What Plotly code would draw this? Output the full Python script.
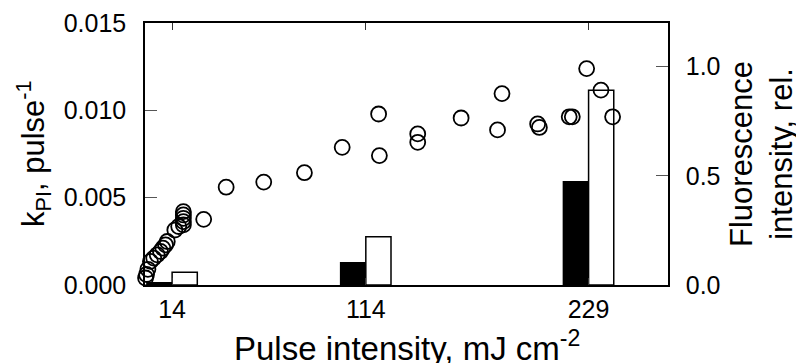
import plotly.graph_objects as go

# k_PI data (left axis)
kpi_x = [0.3, 0.8, 1.5, 2.8, 4.5, 6.3, 8.0, 9.2, 10.6, 11.5, 15.4, 17.4,
         19.8, 19.8, 19.8, 19.8, 19.8, 30.3, 41.9, 61.3, 82.3, 101.8,
         120.6, 121.0, 140.8, 140.8, 163.2, 182.0, 184.3, 202.7, 203.6,
         219.0, 220.6, 228.0, 235.4, 241.4]
kpi_y = [0.0004, 0.0006, 0.0009, 0.00135, 0.00154, 0.00173, 0.00192, 0.00211,
         0.0023, 0.00249, 0.00315, 0.00335,
         0.00344, 0.00363, 0.00382, 0.00401, 0.0042, 0.00376, 0.0056, 0.00589,
         0.00643, 0.00788,
         0.00979, 0.00741, 0.00865, 0.00817, 0.00956, 0.00888, 0.01096, 0.00922,
         0.00902, 0.00963, 0.00963, 0.01239, 0.01116, 0.00963]

# Fluorescence bars (right axis)
bar_x = [14, 114, 229]
fluo_black = [0.01, 0.102, 0.473]
fluo_white = [0.058, 0.221, 0.892]

x_ticks = [14, 114, 229]
left_ticks = [0.0, 0.005, 0.010, 0.015]
right_ticks = [0.0, 0.5, 1.0]

FONT = "Arial"
fig = go.Figure()

fig.add_trace(go.Bar(x=bar_x, y=fluo_black, marker=dict(color="black", line=dict(color="black", width=1.5)),
                     yaxis="y", showlegend=False))
fig.add_trace(go.Bar(x=bar_x, y=fluo_white, marker=dict(color="white", line=dict(color="black", width=1.5)),
                     yaxis="y", showlegend=False))
fig.add_trace(go.Scatter(x=kpi_x, y=kpi_y, mode="markers", yaxis="y2", cliponaxis=False,
                         marker=dict(symbol="circle-open", size=15, color="black", line=dict(width=1.8)),
                         showlegend=False))

tickfont = dict(family=FONT, size=25, color="black")

fig.update_layout(
    template="none",
    width=796, height=355,
    margin=dict(l=137, r=136, t=15, b=78),
    paper_bgcolor="white", plot_bgcolor="white",
    barmode="group", bargap=0.74, bargroupgap=0,
    xaxis=dict(range=[0, 270], tickvals=x_ticks, ticktext=[str(v) for v in x_ticks],
               ticks="inside", ticklen=7, tickcolor="#333", tickwidth=1.2, automargin=False,
               showline=True, linecolor="black", linewidth=1.5, mirror="ticks",
               showgrid=False, zeroline=False, tickfont=tickfont, ticklabelstandoff=1),
    yaxis=dict(side="right", range=[0, 1.2], tickvals=right_ticks, tickformat=".1f",
               ticks="inside", ticklen=12, tickcolor="#555", tickwidth=1.2, automargin=False,
               showline=True, linecolor="black", linewidth=1.5,
               showgrid=False, zeroline=False, tickfont=tickfont, ticklabelstandoff=11),
    yaxis2=dict(side="left", overlaying="y", range=[0, 0.015], tickvals=left_ticks, tickformat=".3f",
                ticks="inside", ticklen=12, tickcolor="#555", tickwidth=1.2, automargin=False,
                showline=True, linecolor="black", linewidth=1.5,
                showgrid=False, zeroline=False, tickfont=tickfont, ticklabelstandoff=12),
    annotations=[
        dict(text="k<sub>PI</sub>, pulse<sup>-1</sup>", textangle=-90, xref="paper", yref="paper",
             x=0, y=0.5, xanchor="center", yanchor="middle", xshift=-112, showarrow=False,
             font=dict(family=FONT, size=31, color="black")),
        dict(text="Fluorescence<br>intensity, rel.", textangle=-90, xref="paper", yref="paper",
             x=1, y=0.5, xanchor="center", yanchor="middle", xshift=93, showarrow=False,
             font=dict(family=FONT, size=31, color="black")),
        dict(text="Pulse intensity, mJ cm<sup>-2</sup>", xref="paper", yref="paper",
             x=0.5, y=0, xanchor="center", yanchor="middle", yshift=-61, showarrow=False,
             font=dict(family=FONT, size=33, color="black")),
    ],
)

fig.write_html("out.html")
